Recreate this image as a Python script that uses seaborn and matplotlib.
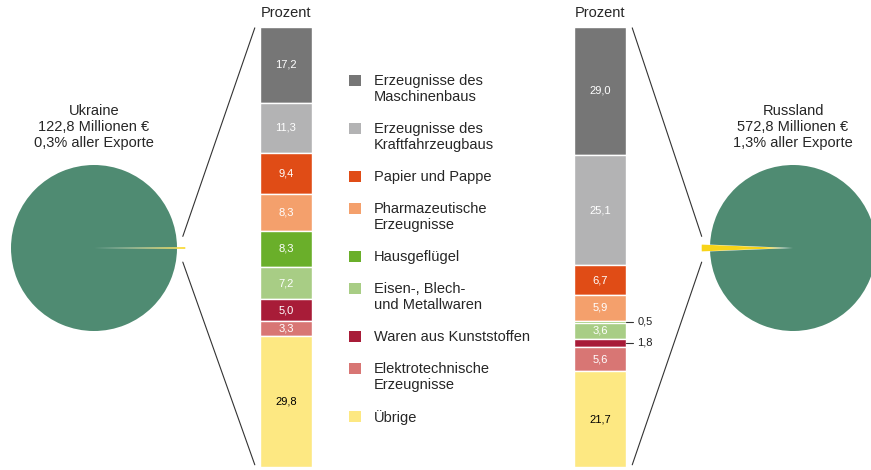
import matplotlib
matplotlib.use("Agg")
import matplotlib.pyplot as plt
from matplotlib.patches import ConnectionPatch, Rectangle
import seaborn as sns
import numpy as np

W, H = 871, 470

categories = [
    "Erzeugnisse des\nMaschinenbaus",
    "Erzeugnisse des\nKraftfahrzeugbaus",
    "Papier und Pappe",
    "Pharmazeutische\nErzeugnisse",
    "Hausgeflügel",
    "Eisen-, Blech-\nund Metallwaren",
    "Waren aus Kunststoffen",
    "Elektrotechnische\nErzeugnisse",
    "Übrige",
]
ukraine_pct = [17.2, 11.3, 9.4, 8.3, 8.3, 7.2, 5.0, 3.3, 29.8]
russland_pct = [29.0, 25.1, 6.7, 5.9, 0.5, 3.6, 1.8, 5.6, 21.7]
bar_colors = ["#767676", "#b3b3b4", "#e04c16", "#f4a06c", "#6aaf2a",
              "#a8cd85", "#a81c38", "#d87674", "#fde882"]

ukraine_title = "Ukraine\n122,8 Millionen €\n0,3% aller Exporte"
russland_title = "Russland\n572,8 Millionen €\n1,3% aller Exporte"
ukraine_share = 0.3
russland_share = 1.3
pie_green = "#4f8b72"
pie_yellow = "#f8d419"

sns.set_theme(style="white")
plt.rcParams["font.family"] = ["Liberation Sans", "DejaVu Sans"]

fig = plt.figure(figsize=(W / 100, H / 100), dpi=100)


def px_box(left, top, width, height):
    return [left / W, (H - top - height) / H, width / W, height / H]


def fmt(v):
    return f"{v:.1f}".replace(".", ",")


def stacked_bar(ax, values):
    values = np.array(values)
    bottoms = np.concatenate([[0], np.cumsum(values)[:-1]])
    total = values.sum()
    for i, (val, bot, col) in enumerate(zip(values, bottoms, bar_colors)):
        ax.bar(0, val, bottom=bot, width=1, color=col, edgecolor="white", linewidth=1)
        mid = bot + val / 2
        if val >= 2:
            tc = "black" if i == len(values) - 1 else "white"
            ax.text(0, mid, fmt(val), ha="center", va="center", fontsize=8, color=tc)
        else:
            # small segments get their label outside, with a short leader line
            ax.plot([0.5, 0.63], [mid, mid], color="#333333", lw=0.8, clip_on=False)
            ax.text(0.72, mid, fmt(val), ha="left", va="center", fontsize=8, color="#222222")
    ax.set_xlim(-0.5, 0.5)
    ax.set_ylim(total, 0)
    ax.text(0.5, 1.032, "Prozent", transform=ax.transAxes, ha="center", va="center", fontsize=10.5)
    ax.axis("off")


def pie_chart(ax, share, angle, title):
    span = share * 3.6
    ax.pie([share, 100 - share], colors=[pie_yellow, pie_green], startangle=angle - span / 2,
           explode=[0.1, 0], counterclock=True, wedgeprops=dict(linewidth=0))
    lim = 120 / 83
    ax.set_xlim(-lim, lim)
    ax.set_ylim(-lim, lim)
    ax.text(0, 1.46, title, ha="center", va="center", fontsize=10.5, linespacing=1.2)
    ax.axis("off")


ax_ua_bar = fig.add_axes(px_box(260, 27, 52, 440))
ax_ru_bar = fig.add_axes(px_box(574, 27, 52, 440))
stacked_bar(ax_ua_bar, ukraine_pct)
stacked_bar(ax_ru_bar, russland_pct)

ax_ua_pie = fig.add_axes(px_box(94 - 120, 248 - 120, 240, 240))
ax_ru_pie = fig.add_axes(px_box(793 - 120, 248 - 120, 240, 240))
pie_chart(ax_ua_pie, ukraine_share, 0, ukraine_title)
pie_chart(ax_ru_pie, russland_share, 180, russland_title)

# connector lines pie -> bar
for pie_ax, bar_ax, px, bx in [(ax_ua_pie, ax_ua_bar, 1.07, -0.1), (ax_ru_pie, ax_ru_bar, -1.10, 1.12)]:
    for py, by in [(0.14, 0.998), (-0.17, 0.005)]:
        con = ConnectionPatch(xyA=(px, py), coordsA=pie_ax.transData,
                              xyB=(bx, by), coordsB=bar_ax.transAxes,
                              color="#333333", lw=0.8)
        fig.add_artist(con)

# legend
ax_leg = fig.add_axes([0, 0, 1, 1])
ax_leg.set_xlim(0, W)
ax_leg.set_ylim(H, 0)
ax_leg.axis("off")
y = 80
for label, col in zip(categories, bar_colors):
    ax_leg.add_patch(Rectangle((349, y - 5.5), 12, 11, color=col, lw=0))
    ax_leg.text(374, y - 6, label, ha="left", va="top", fontsize=10.5, linespacing=1.2)
    y += 32 + 16 * label.count("\n")

fig.savefig("out.png", dpi=100)
